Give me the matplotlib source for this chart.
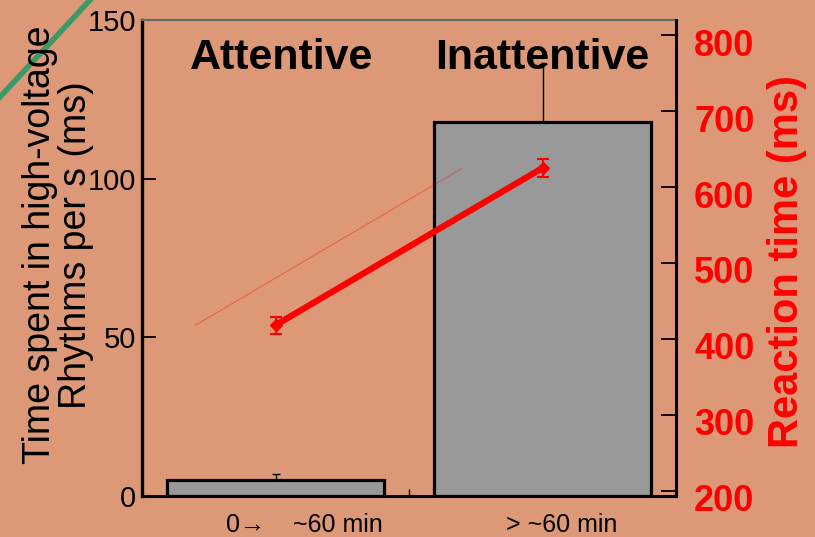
import matplotlib
matplotlib.use("Agg")
import matplotlib.pyplot as plt
from matplotlib.lines import Line2D
from matplotlib.transforms import ScaledTranslation

plt.rcParams['font.family'] = ['Liberation Sans', 'DejaVu Sans']

# Data
groups = ["Attentive", "Inattentive"]
time_labels = ["0\u2192    ~60 min", "> ~60 min"]
hv_time = [5, 118]          # time in high-voltage rhythms per s (ms)
hv_err = [2, 18]
reaction = [418, 625]       # reaction time (ms)
reaction_err = [11, 12]
left_ticks = [0, 50, 100, 150]
right_ticks = [200, 300, 400, 500, 600, 700, 800]

BG = "#DC9877"
fig = plt.figure(figsize=(8.15, 5.37), dpi=100, facecolor=BG)
ax = fig.add_axes([142/815, 1-496/537, (676-142)/815, (496-20)/537])
ax.set_facecolor(BG)
x = list(range(len(groups)))

ax.bar(x, hv_time, width=0.815, color="#999999", edgecolor="black", linewidth=2.3, zorder=2)
ax.errorbar(x, hv_time, yerr=[[0, 0], hv_err], fmt="none", ecolor="black",
            elinewidth=1.0, capsize=3, capthick=1.0, zorder=1)
ax.set_xlim(-0.5, 1.5)
ax.set_ylim(0, 150)
ax.set_yticks(left_ticks)
ax.tick_params(axis="y", direction="in", length=10, width=1.3, labelsize=21, pad=4)
ax.set_xticks(x)
ax.set_xticklabels(time_labels, fontsize=18)
ax.tick_params(axis="x", which="major", length=0, pad=12)
ax.set_xticks([0.5], minor=True)
ax.tick_params(axis="x", which="minor", direction="in", length=5, width=1)
for lab, dx in zip(ax.get_xticklabels(), [0.29, 0.19]):
    lab.set_transform(lab.get_transform() + ScaledTranslation(dx, 0, fig.dpi_scale_trans))

ax.spines["left"].set_linewidth(2.4)
ax.spines["bottom"].set_linewidth(2.2)
ax.spines["right"].set_visible(False)
ax.spines["top"].set_color("#666666")
ax.spines["top"].set_linewidth(1.5)

fig.text(58/815, 1-245/537, "Time spent in high-voltage\nRhythms per s (ms)",
         rotation=90, ha="center", va="center", fontsize=27, linespacing=1.0,
         multialignment="center")

for xi, g, dx in zip(x, groups, [0.023, 0.0]):
    ax.text(xi + dx, 138, g, ha="center", va="center", fontsize=31,
            fontweight="bold", zorder=5)

# Reaction time on the right axis
ax2 = ax.twinx()
ax2.set_ylim(193, 820)
ax2.set_yticks(right_ticks)
ax2.tick_params(axis="y", direction="in", length=11, width=1.3, labelsize=26,
                labelcolor="red", pad=13)
for lab in ax2.get_yticklabels():
    lab.set_fontweight("bold")
    lab.set_transform(lab.get_transform() + ScaledTranslation(0, -0.07, fig.dpi_scale_trans))
for s in ["left", "top", "bottom"]:
    ax2.spines[s].set_visible(False)
ax2.spines["right"].set_linewidth(2.2)

ax2.plot(x, reaction, color="red", lw=0.8, alpha=0.35,
         transform=ax2.transData + ScaledTranslation(-0.8, 0, fig.dpi_scale_trans))
ax2.errorbar(x, reaction, yerr=reaction_err, color="red", lw=4.5, marker="D",
             markersize=6, elinewidth=1.5, capsize=4, capthick=1.5)
fig.text(787/815, 1-262/537, "Reaction time (ms)", rotation=90, ha="center",
         va="center", fontsize=30, fontweight="bold", color="red")

# corner accent stroke
fig.add_artist(Line2D([0, 90/815], [1-97/537, 1], transform=fig.transFigure,
                      color="#3A9A68", lw=4))

fig.savefig("out.png", dpi=100, facecolor=BG)
